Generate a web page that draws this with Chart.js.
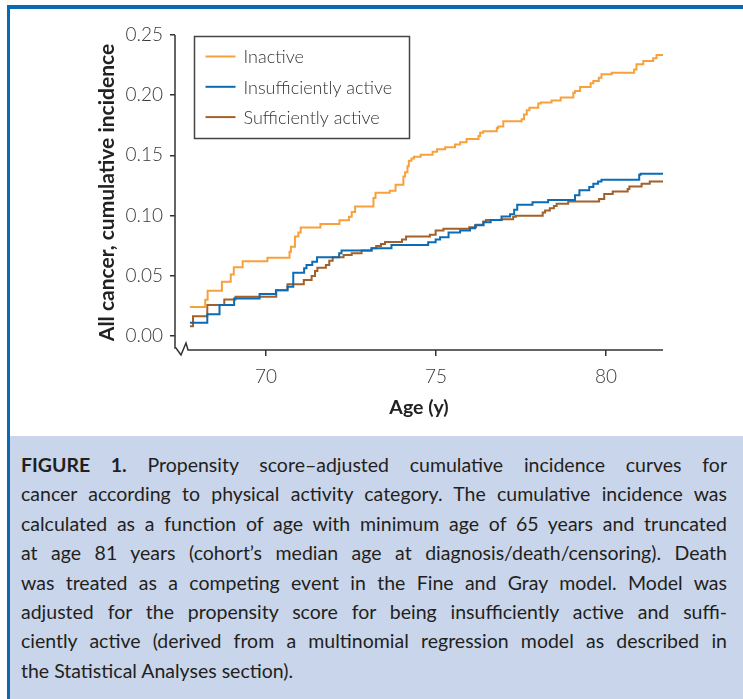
<!DOCTYPE html>
<html>
<head>
<meta charset="utf-8">
<script src="https://cdn.jsdelivr.net/npm/chart.js@4"></script>
<style>
  html, body { margin: 0; padding: 0; background: #fff; }
  body { width: 743px; height: 699px; position: relative; overflow: hidden; font-family: Lato, sans-serif; }
  #frame { position: absolute; left: 7px; top: 5px; right: 0; bottom: 0;
           border-left: 3px solid #0a69b3; border-top: 4px solid #0a69b3; }
  #chartBox { position: absolute; left: 10px; top: 9px; width: 733px; height: 427px; }
  #caption { position: absolute; left: 10px; top: 436px; width: 733px; height: 263px;
             background: #c9d5ea; color: #231f20; box-sizing: border-box;
             padding: 14px 16px 0 11px; font-size: 19.5px; line-height: 29.4px; }
  #caption .ln { white-space: nowrap; text-align: justify; text-align-last: justify; }
  #caption .ln.last { text-align-last: left; }
  #caption b { font-weight: 700; }
</style>
</head>
<body>
<div id="frame"></div>
<div id="chartBox"><canvas id="cif" width="733" height="427"></canvas></div>
<div id="caption">
  <div class="ln"><b>FIGURE 1.</b> Propensity score–adjusted cumulative incidence curves for</div>
  <div class="ln">cancer according to physical activity category. The cumulative incidence was</div>
  <div class="ln">calculated as a function of age with minimum age of 65 years and truncated</div>
  <div class="ln">at age 81 years (cohort’s median age at diagnosis/death/censoring). Death</div>
  <div class="ln">was treated as a competing event in the Fine and Gray model. Model was</div>
  <div class="ln">adjusted for the propensity score for being insufficiently active and suffi-</div>
  <div class="ln">ciently active (derived from a multinomial regression model as described in</div>
  <div class="ln last">the Statistical Analyses section).</div>
</div>
<script>
// age (y) at each jump, and cumulative incidence after the jump
const inactiveAge = [67.76, 68.21, 68.28, 68.70, 68.96, 69.05, 69.31, 70.04, 70.69, 70.73, 70.85, 70.95, 71.02,
  71.60, 72.16, 72.44, 72.52, 72.62, 73.16, 73.22, 73.64, 73.81, 74.04, 74.09, 74.16, 74.20, 74.28, 74.35, 74.55,
  74.90, 75.03, 75.27, 75.56, 75.71, 75.90, 76.25, 76.30, 76.39, 76.79, 76.83, 76.98, 77.52, 77.59, 77.67, 77.75,
  78.01, 78.08, 78.40, 78.67, 79.04, 79.09, 79.24, 79.55, 79.63, 79.79, 79.87, 80.17, 80.83, 80.90, 81.10, 81.39,
  81.49, 81.68];
const inactiveInc = [0.024, 0.030, 0.0375, 0.045, 0.051, 0.057, 0.062, 0.065, 0.070, 0.074, 0.0825, 0.086, 0.090,
  0.093, 0.096, 0.099, 0.103, 0.1075, 0.1145, 0.119, 0.1206, 0.1256, 0.1325, 0.136, 0.141, 0.1456, 0.1475, 0.1488, 0.1506,
  0.153, 0.155, 0.1567, 0.159, 0.161, 0.1637, 0.166, 0.1687, 0.170, 0.1728, 0.174, 0.1783, 0.180, 0.184, 0.1875, 0.1895,
  0.193, 0.194, 0.1956, 0.198, 0.202, 0.2034, 0.2067, 0.210, 0.2117, 0.2145, 0.2173, 0.2187, 0.2214, 0.2256, 0.2283, 0.2306,
  0.2334, 0.2334];

const insuffAge = [67.76, 68.27, 68.63, 69.06, 69.81, 70.29, 70.63, 70.80, 71.12, 71.19, 71.36, 71.50, 72.15, 72.22,
  73.10, 73.69, 74.77, 74.99, 75.12, 75.37, 75.71, 76.00, 76.15, 76.40, 76.61, 76.93, 77.18, 77.30, 77.39, 77.84,
  78.30, 79.09, 79.22, 79.51, 79.63, 79.77, 79.87, 80.98, 81.02, 81.68];
const insuffInc = [0.011, 0.018, 0.0256, 0.031, 0.0348, 0.038, 0.0408, 0.0525, 0.0562, 0.059, 0.0617, 0.0653, 0.0687, 0.071,
  0.0728, 0.0756, 0.0778, 0.080, 0.082, 0.086, 0.0875, 0.0895, 0.092, 0.0945, 0.0964, 0.0992, 0.101, 0.1048, 0.109, 0.111,
  0.113, 0.1168, 0.121, 0.1237, 0.1264, 0.1283, 0.1298, 0.134, 0.1348, 0.1348];

const suffAge = [67.76, 67.85, 68.27, 68.77, 69.10, 70.30, 70.63, 71.11, 71.34, 71.44, 71.51, 71.76, 71.86, 71.96,
  72.28, 72.52, 72.81, 73.11, 73.24, 73.38, 73.50, 74.00, 74.12, 74.82, 74.99, 75.22, 75.98, 76.18, 76.39, 76.47,
  76.93, 77.27, 77.35, 78.14, 78.21, 78.35, 78.47, 78.55, 78.89, 79.80, 79.95, 80.20, 80.64, 80.69, 81.05, 81.29, 81.68];
const suffInc = [0.008, 0.0164, 0.0256, 0.0303, 0.0325, 0.038, 0.043, 0.0465, 0.0497, 0.054, 0.0567, 0.059, 0.0625, 0.0653,
  0.0673, 0.0687, 0.071, 0.0728, 0.0748, 0.0764, 0.078, 0.080, 0.0825, 0.084, 0.0875, 0.089, 0.0903, 0.0923, 0.095, 0.0964,
  0.097, 0.099, 0.0998, 0.1025, 0.1042, 0.106, 0.108, 0.1098, 0.1117, 0.1137, 0.118, 0.120, 0.122, 0.1242, 0.1264, 0.1283, 0.1283];

const seriesNames = ['Inactive', 'Insufficiently active', 'Sufficiently active'];
const seriesColors = ['#f7a13c', '#0b6cb5', '#a2612b'];
const yTicks = [0, 0.05, 0.10, 0.15, 0.20, 0.25];
const xTicks = [70, 75, 80];

const toPoints = (ages, vals) => ages.map((a, i) => ({ x: a, y: vals[i] }));
const seriesData = [toPoints(inactiveAge, inactiveInc), toPoints(insuffAge, insuffInc), toPoints(suffAge, suffInc)];

const axisColor = '#333';
const fontFamily = 'Lato, "Open Sans", sans-serif';

// broken axes + boxed legend
const axesAndLegend = {
    id: 'axesAndLegend',
    afterDraw(chart) {
        const ctx = chart.ctx;
        const a = chart.chartArea;
        ctx.save();
        ctx.strokeStyle = axisColor;
        ctx.lineWidth = 1.5;
        ctx.beginPath();
        ctx.moveTo(a.left, a.top);
        ctx.lineTo(a.left, a.bottom - 2);
        ctx.lineTo(a.left + 1, a.bottom - 2);
        ctx.lineTo(a.left + 6, a.bottom + 5);
        ctx.lineTo(a.left + 11, a.bottom - 7);
        ctx.lineTo(a.left + 13, a.bottom);
        ctx.lineTo(a.right, a.bottom);
        ctx.stroke();

        const bx = a.left + 19.5, by = a.top + 1.5, bw = 215, bh = 102;
        ctx.fillStyle = '#fff';
        ctx.fillRect(bx, by, bw, bh);
        ctx.strokeStyle = '#444';
        ctx.lineWidth = 1.5;
        ctx.strokeRect(bx, by, bw, bh);
        ctx.font = '300 18px ' + fontFamily;
        ctx.textBaseline = 'middle';
        chart.data.datasets.forEach((ds, i) => {
            const ry = by + 20 + i * 30.3;
            ctx.strokeStyle = ds.borderColor;
            ctx.lineWidth = 2;
            ctx.beginPath();
            ctx.moveTo(bx + 11, ry);
            ctx.lineTo(bx + 41, ry);
            ctx.stroke();
            ctx.fillStyle = '#333';
            ctx.fillText(ds.label, bx + 49, ry + 1);
        });
        ctx.restore();
    }
};

const chart = new Chart(document.getElementById('cif').getContext('2d'), {
    type: 'line',
    data: {
        datasets: seriesNames.map((name, i) => ({
            label: name,
            data: seriesData[i],
            borderColor: seriesColors[i],
            borderWidth: 2,
            stepped: true,
            pointRadius: 0,
            fill: false,
        })),
    },
    options: {
        responsive: false,
        animation: false,
        layout: { padding: { left: 81, top: 26, right: 80, bottom: 14 } },
        plugins: { legend: { display: false }, tooltip: { enabled: false } },
        scales: {
            x: {
                type: 'linear',
                min: 67.32,
                max: 81.68,
                afterFit: (s) => { s.height = 72; },
                afterBuildTicks: (s) => { s.ticks = xTicks.map(v => ({ value: v })); },
                border: { display: false },
                grid: { drawOnChartArea: false, drawTicks: true, tickLength: 6, color: axisColor, lineWidth: 1.5 },
                ticks: { padding: 9, color: '#3a3a3a', font: { family: fontFamily, size: 19, weight: 300 } },
                title: { display: true, text: 'Age (y)', color: '#222', font: { family: fontFamily, size: 19.5, weight: 'bold' }, padding: { top: 0, bottom: 3 } },
            },
            y: {
                min: -0.0117,
                max: 0.25,
                afterFit: (s) => { s.width = 84; },
                afterBuildTicks: (s) => { s.ticks = yTicks.map(v => ({ value: v })); },
                border: { display: false },
                grid: { drawOnChartArea: false, drawTicks: true, tickLength: 5, color: axisColor, lineWidth: 1.5 },
                ticks: { padding: 7, color: '#3a3a3a', callback: (v) => v.toFixed(2), font: { family: fontFamily, size: 19, weight: 300 } },
                title: { display: true, text: 'All cancer, cumulative incidence', color: '#222', font: { family: fontFamily, size: 21, weight: 'bold' }, padding: { top: 4, bottom: 4 } },
            },
        },
    },
    plugins: [axesAndLegend],
});
</script>
</body>
</html>
